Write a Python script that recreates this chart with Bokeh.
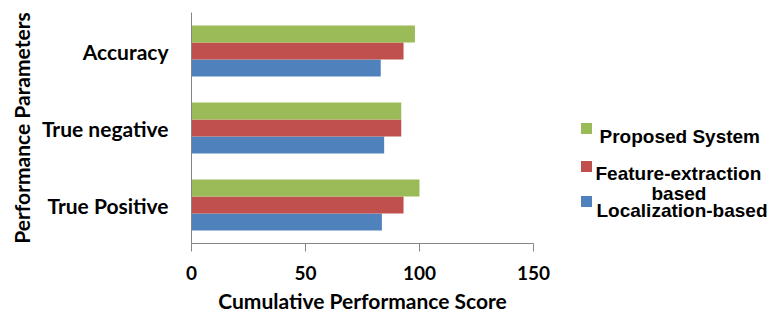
from bokeh.plotting import figure
from bokeh.models import ColumnDataSource, Range1d, FactorRange, FixedTicker
from bokeh.transform import dodge
from bokeh.layouts import row
from bokeh.core.properties import value
from bokeh.embed import file_html
from bokeh.resources import INLINE

# ---- data ----
categories = ["True Positive", "True negative", "Accuracy"]
localization_based = [83.5, 84.5, 83]
feature_extraction_based = [93, 92, 93]
proposed_system = [100, 92, 98]
x_ticks = [0, 50, 100, 150]
series_names = ["Proposed System", "Feature-extraction based", "Localization-based"]
colors = ["#9BBB59", "#C0504D", "#4F81BD"]
x_title = "Cumulative Performance Score"
y_title = "Performance Parameters"

FONT = "Lato"
AX = "#868686"
H = 315
TOP, BOT = 12, 243

src = ColumnDataSource(dict(cat=categories, loc=localization_based,
                            feat=feature_extraction_based, prop=proposed_system))

W1 = 555
p = figure(width=W1, height=H, y_range=FactorRange(factors=categories),
           x_range=Range1d(x_ticks[0], x_ticks[-1]), output_backend="svg",
           toolbar_location=None, title=None, min_border_left=191,
           min_border_right=22, min_border_top=TOP, min_border_bottom=H - BOT)
p.outline_line_color = None
p.grid.visible = False

bw = 0.22
p.hbar(y=dodge("cat", -bw, range=p.y_range), left=0, right="loc", height=bw,
       source=src, fill_color=colors[2], line_color=None)
p.hbar(y=dodge("cat", 0, range=p.y_range), left=0, right="feat", height=bw,
       source=src, fill_color=colors[1], line_color=None)
p.hbar(y=dodge("cat", bw, range=p.y_range), left=0, right="prop", height=bw,
       source=src, fill_color=colors[0], line_color=None)

xa = p.xaxis[0]
xa.ticker = FixedTicker(ticks=x_ticks)
xa.axis_line_color = AX
xa.major_tick_line_color = AX
xa.major_tick_out = 8
xa.major_tick_in = 0
xa.minor_tick_line_color = None
xa.major_label_text_font = FONT
xa.major_label_text_font_style = "bold"
xa.major_label_text_font_size = "19px"
xa.major_label_text_color = "black"
xa.major_label_standoff = 14
xa.axis_label = x_title
xa.axis_label_text_font = FONT
xa.axis_label_text_font_style = "bold"
xa.axis_label_text_font_size = "21px"
xa.axis_label_text_color = "black"
xa.axis_label_standoff = 5

ya = p.yaxis[0]
ya.axis_line_color = AX
ya.major_tick_line_color = None
ya.major_tick_out = 0
ya.major_tick_in = 0
ya.major_label_standoff = 23
ya.major_label_text_font = FONT
ya.major_label_text_font_style = "bold"
ya.major_label_text_font_size = "21px"
ya.major_label_text_color = "black"
ya.axis_label = y_title
ya.axis_label_text_font = FONT
ya.axis_label_text_font_style = "bold"
ya.axis_label_text_font_size = "21px"
ya.axis_label_text_color = "black"
ya.axis_label_standoff = 5

# ---- legend panel: frame spans same vertical extent as main frame,
#      ranges set so that data units equal page pixels ----
LW = 767 - W1
lg = figure(width=LW, height=H, x_range=Range1d(0, LW), y_range=Range1d(BOT, TOP),
            output_backend="svg", toolbar_location=None, title=None,
            min_border_left=0, min_border_right=0, min_border_top=TOP,
            min_border_bottom=H - BOT, x_axis_location=None, y_axis_location=None)
lg.outline_line_color = None
lg.grid.visible = False

lg.rect(x=[31, 31, 31], y=[128, 166, 201], width=11, height=11,
        fill_color=colors, line_color=None)
leg_lines = ["Proposed System", "Feature-extraction", "based", "Localization-based"]
lg.text(x=[44, 40, 96, 41], y=[136, 172.5, 192.5, 210], text=leg_lines,
        text_font=value("Liberation Sans"), text_font_style="bold",
        text_font_size="19px", text_baseline="alphabetic", text_align="left",
        text_color="black")

layout = row(p, lg)
open("out.html", "w").write(file_html(layout, INLINE))
